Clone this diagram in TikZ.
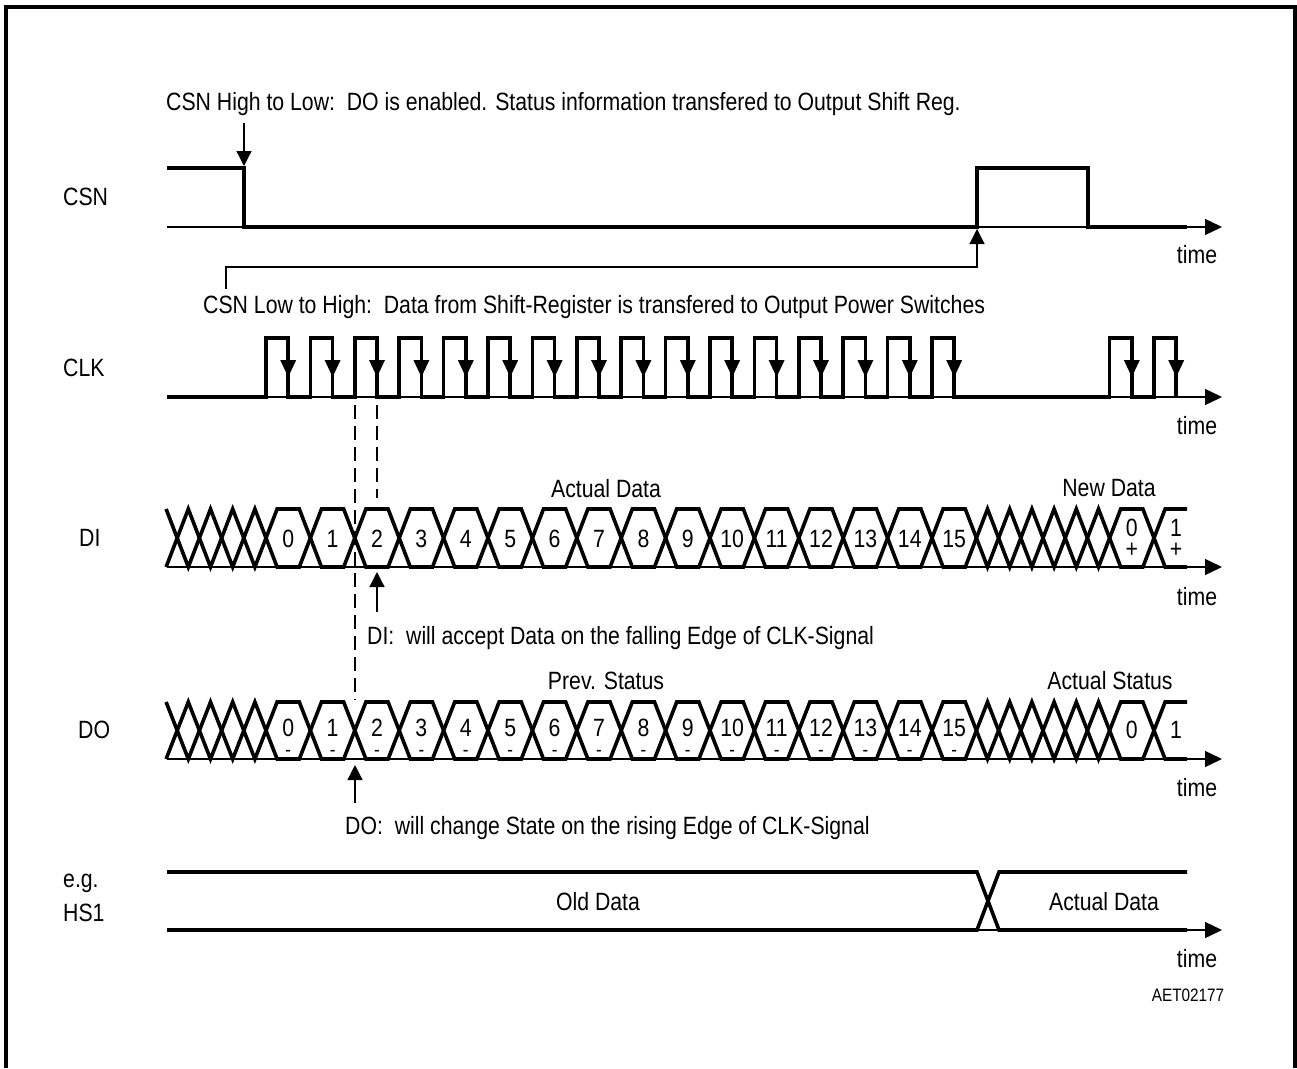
\documentclass[tikz,border=0pt]{standalone}
\usepackage{fontspec}
\setmainfont{Liberation Sans}[FakeStretch=0.85]
\usetikzlibrary{arrows.meta}
\begin{document}
\begin{tikzpicture}[x=1pt,y=-1pt,
  sig/.style={line width=3.6pt,line join=miter,line cap=butt},
  axisline/.style={line width=1.3pt,-{Triangle[length=17pt,width=16pt]}},
  thinline/.style={line width=1.3pt},
  annarrow/.style={line width=1.3pt,-{Triangle[length=15pt,width=15pt]}},
  dashline/.style={line width=1.3pt,dash pattern=on 14pt off 7pt},
  lab/.style={font=\fontsize{25}{30}\selectfont,inner sep=0pt},
  smalllab/.style={font=\fontsize{18}{22}\selectfont,inner sep=0pt},
  dashlab/.style={font=\fontsize{20}{24}\selectfont,inner sep=0pt}]
\useasboundingbox (0,0) rectangle (1297,1068);
% frame
\draw[line width=4pt] (6,1068) -- (6,7) -- (1294.5,7) -- (1294.5,1068);

% ---------- signal names ----------
\node[lab,anchor=west] (nCSN) at (63,197) {CSN};
\node[lab,anchor=west] (nCLK) at (63,368) {CLK};
\node[lab,anchor=west] (nDI) at (79,538) {DI};
\node[lab,anchor=west] (nDO) at (78,730) {DO};
\node[lab,anchor=west] (nEG) at (63,883) {e.g.};
\node[lab,anchor=west] (nHS) at (63,913) {HS1};

% ---------- time axes ----------
\coordinate (aCSN0) at (167,227); \coordinate (aCSN1) at (1222,227);
\coordinate (aCLK0) at (167,397); \coordinate (aCLK1) at (1222,397);
\coordinate (aDI0) at (167,567);  \coordinate (aDI1) at (1222,567);
\coordinate (aDO0) at (167,759);  \coordinate (aDO1) at (1222,759);
\coordinate (aHS0) at (167,930);  \coordinate (aHS1) at (1222,930);
\draw[axisline] (aCSN0) -- (aCSN1);
\draw[axisline] (aCLK0) -- (aCLK1);
\draw[axisline] (aDI0) -- (aDI1);
\draw[axisline] (aDO0) -- (aDO1);
\draw[axisline] (aHS0) -- (aHS1);
\node[lab] (tCSN) at (1197,255) {time};
\node[lab] (tCLK) at (1197,426) {time};
\node[lab] (tDI) at (1197,597) {time};
\node[lab] (tDO) at (1197,788) {time};
\node[lab] (tHS) at (1197,959) {time};

% ---------- CSN ----------
\draw[sig] (167,168) -- (244,168) -- (244,227) -- (977,227) -- (977,168) -- (1088,168) -- (1088,227) -- (1187,227);

% CSN high to low annotation
\node[lab,anchor=west] (txtHL) at (166,104) {CSN High to Low:\ \ DO is enabled. Status information transfered to Output Shift Reg.};
\coordinate (hlA) at (244,123);
\coordinate (hlB) at (244,166);
\draw[annarrow] (hlA) -- (hlB);

% CSN low to high annotation
\node[lab,anchor=west] (txtLH) at (203,307) {CSN Low to High:\ \ Data from Shift-Register is transfered to Output Power Switches};
\coordinate (lhA) at (226,289);
\coordinate (lhB) at (977,229);
\draw[annarrow] (lhA) |- (977,267) -- (lhB);

% ---------- CLK ----------
\draw[sig] (167,397)
  \foreach \k in {0,...,15} { -- ({266+44.4*\k},397) -- ({266+44.4*\k},338) -- ({288.2+44.4*\k},338) -- ({288.2+44.4*\k},397) }
  \foreach \k in {19,20} { -- ({266+44.4*\k},397) -- ({266+44.4*\k},338) -- ({288.2+44.4*\k},338) -- ({288.2+44.4*\k},397) };
\foreach \k in {0,...,15,19,20} {
  \fill ({288.2+44.4*\k-8},360) -- ({288.2+44.4*\k+8},360) -- ({288.2+44.4*\k},377) -- cycle;
}

% dashed guide lines
\coordinate (dA0) at (355,405); \coordinate (dA1) at (355,700);
\coordinate (dB0) at (377,405); \coordinate (dB1) at (377,498);
\draw[dashline] (dA0) -- (dA1);
\draw[dashline] (dB0) -- (dB1);

% ---------- bus macro ----------
\newcommand{\buspath}[2]{%
 \draw[sig] (166.1,#2) -- (188.3,#1) -- (210.5,#2) -- (232.7,#1) -- (254.9,#2)
  \foreach \k in {0,2,...,14}{ -- ({277.1+44.4*\k},#1) -- ({299.3+44.4*\k},#1) -- ({321.5+44.4*\k},#2) -- ({343.7+44.4*\k},#2) }
  -- (987.5,#1) -- (1009.7,#2) -- (1031.9,#1) -- (1054.1,#2) -- (1076.3,#1) -- (1098.5,#2) -- (1120.7,#1) -- (1142.9,#1) -- (1165.1,#2) -- (1187,#2);
}

% ---------- DI ----------
\buspath{509}{567}
\buspath{567}{509}
\foreach \k in {0,...,15} { \node[lab] (di\k) at ({288.2+44.4*\k},539) {\k}; }
\node[lab] (diN0) at (1131.8,528) {0};
\node[lab] (diN0p) at (1131.8,550) {+};
\node[lab] (diN1) at (1176,528) {1};
\node[lab] (diN1p) at (1176,550) {+};
\node[lab] (txtAD) at (606,489) {Actual Data};
\node[lab] (txtND) at (1109,488) {New Data};

% DI annotation
\coordinate (diA) at (377,612);
\coordinate (diB) at (377,572);
\draw[annarrow] (diA) -- (diB);
\node[lab,anchor=west] (txtDI) at (367,638) {DI:\ \ will accept Data on the falling Edge of CLK-Signal};

% ---------- DO ----------
\buspath{702}{759}
\buspath{759}{702}
\foreach \k in {0,...,15} {
  \node[lab] (do\k) at ({288.2+44.4*\k},728) {\k};
  \node[dashlab] (dom\k) at ({288.2+44.4*\k},756) {\smash{-}};
}
\node[lab] (doN0) at (1131.8,730) {0};
\node[lab] (doN1) at (1176,730) {1};
\node[lab] (txtPS) at (606,681) {Prev. Status};
\node[lab] (txtAS) at (1110,681) {Actual Status};

% DO annotation
\coordinate (doA) at (355,803);
\coordinate (doB) at (355,765);
\draw[annarrow] (doA) -- (doB);
\node[lab,anchor=west] (txtDO) at (345,828) {DO:\ \ will change State on the rising Edge of CLK-Signal};

% ---------- HS1 ----------
\draw[sig] (167,872) -- (977,872) -- (999,930) -- (1187,930);
\draw[sig] (167,930) -- (977,930) -- (999,872) -- (1187,872);
\node[lab] (txtOD) at (598,902) {Old Data};
\node[lab] (txtAD2) at (1104,902) {Actual Data};

\node[smalllab] (txtID) at (1188,995) {AET02177};
\end{tikzpicture}
\end{document}
